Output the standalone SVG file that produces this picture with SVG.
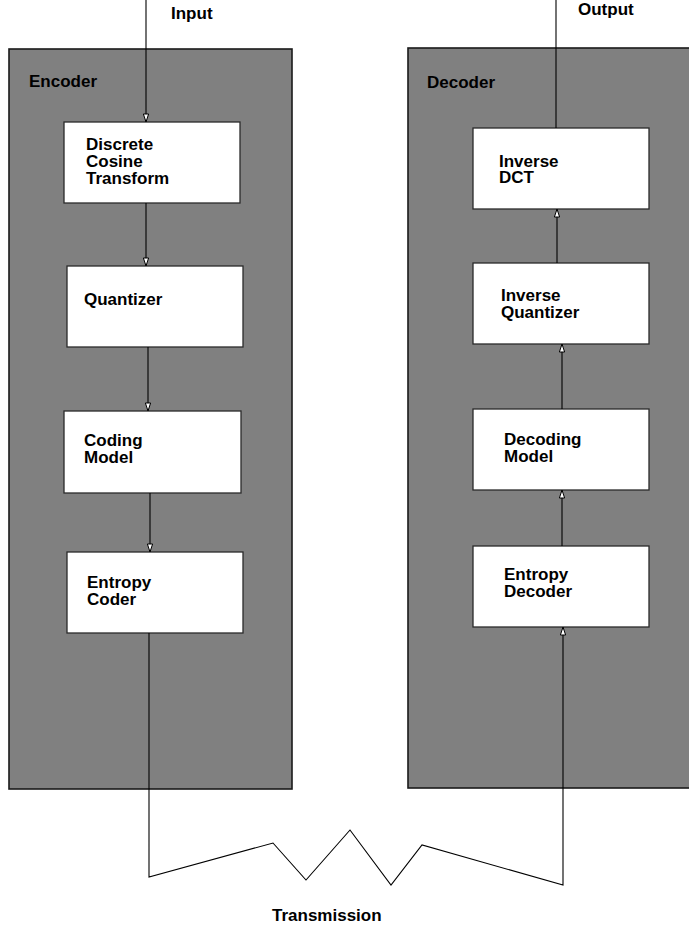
<svg xmlns="http://www.w3.org/2000/svg" width="689" height="925" viewBox="0 0 689 925">
<style>
.panel{fill:#808080;stroke:#1a1a1a;stroke-width:1.6}
.box{fill:#ffffff;stroke:#2a2a2a;stroke-width:1.3}
.t{font-family:"Liberation Sans",Arial,Helvetica,sans-serif;font-weight:bold;font-size:17px;fill:#000}
.ln{fill:none;stroke:#000;stroke-width:1.1}
</style>
<defs>
<marker id="ah" viewBox="-9 -4 10 8" refX="0" refY="0" markerWidth="10" markerHeight="8" markerUnits="userSpaceOnUse" orient="auto">
<path d="M0,0 L-8,-2.6 L-8,2.6 Z" fill="#fff" stroke="#000" stroke-width="1"/>
</marker>
</defs>
<rect width="689" height="925" fill="#fff"/>
<g id="encoder">
<rect class="panel" x="9" y="49" width="283" height="740"/>
<text class="t" x="29" y="87">Encoder</text>
</g>
<g id="decoder">
<rect class="panel" x="408" y="48" width="300" height="740"/>
<text class="t" x="427" y="88">Decoder</text>
</g>
<g id="dct">
<rect class="box" x="64" y="122" width="176" height="81"/>
<text class="t" x="86" y="150">Discrete</text>
<text class="t" x="86" y="167">Cosine</text>
<text class="t" x="86" y="184">Transform</text>
</g>
<g id="quantizer">
<rect class="box" x="67" y="266" width="176" height="81"/>
<text class="t" x="84" y="305">Quantizer</text>
</g>
<g id="coding-model">
<rect class="box" x="64" y="411" width="177" height="82"/>
<text class="t" x="84" y="446">Coding</text>
<text class="t" x="84" y="463">Model</text>
</g>
<g id="entropy-coder">
<rect class="box" x="67" y="552" width="176" height="81"/>
<text class="t" x="87" y="588">Entropy</text>
<text class="t" x="87" y="605">Coder</text>
</g>
<g id="inverse-dct">
<rect class="box" x="473" y="128" width="176" height="81"/>
<text class="t" x="499" y="167">Inverse</text>
<text class="t" x="499" y="183">DCT</text>
</g>
<g id="inverse-quantizer">
<rect class="box" x="473" y="263" width="176" height="81"/>
<text class="t" x="501" y="301">Inverse</text>
<text class="t" x="501" y="318">Quantizer</text>
</g>
<g id="decoding-model">
<rect class="box" x="473" y="409" width="176" height="81"/>
<text class="t" x="504" y="445">Decoding</text>
<text class="t" x="504" y="462">Model</text>
</g>
<g id="entropy-decoder">
<rect class="box" x="473" y="546" width="176" height="81"/>
<text class="t" x="504" y="580">Entropy</text>
<text class="t" x="504" y="597">Decoder</text>
</g>
<g id="labels">
<text class="t" x="171" y="19">Input</text>
<text class="t" x="578" y="15">Output</text>
<text class="t" x="272" y="921">Transmission</text>
</g>
<g id="connectors">
<path class="ln" d="M146,0 V122" marker-end="url(#ah)"/>
<path class="ln" d="M146,203 V266" marker-end="url(#ah)"/>
<path class="ln" d="M148,347 V411" marker-end="url(#ah)"/>
<path class="ln" d="M150,493 V552" marker-end="url(#ah)"/>
<path class="ln" d="M149,633 V877 L273,843 L306,880 L350,830 L391,885 L422,845 L563,885 V627" marker-end="url(#ah)"/>
<path class="ln" d="M562,546 V490" marker-end="url(#ah)"/>
<path class="ln" d="M562,409 V344" marker-end="url(#ah)"/>
<path class="ln" d="M557,263 V209" marker-end="url(#ah)"/>
<path class="ln" d="M556,128 V0"/>
</g>
</svg>
